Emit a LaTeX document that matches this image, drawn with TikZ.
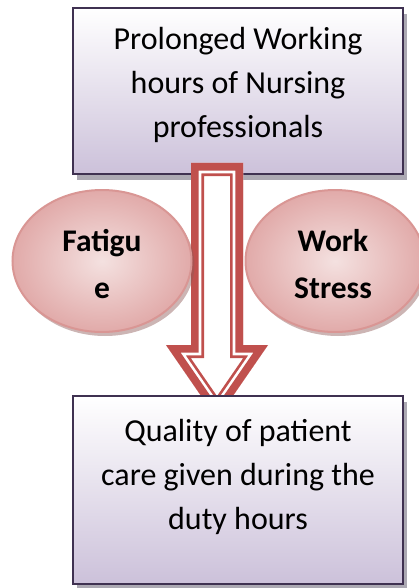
\documentclass[tikz,border=0pt]{standalone}
\usepackage{fontspec}
\setmainfont{Carlito}
\usetikzlibrary{shapes.geometric,shadows}

\definecolor{boxline}{HTML}{3F3151}
\definecolor{boxbottom}{HTML}{CCC1DA}
\definecolor{boxshadow}{HTML}{9E9AA6}
\definecolor{arrowred}{HTML}{C0504D}
\definecolor{ovalline}{HTML}{D99694}
\definecolor{ovaldark}{HTML}{E1AAA9}
\definecolor{ovallight}{HTML}{F4E1E0}
\definecolor{ovalshadow}{HTML}{8F5A58}

\begin{document}
\begin{tikzpicture}[x=1pt,y=-1pt,
  box/.style={draw=boxline, line width=2.4pt, top color=white, bottom color=boxbottom,
    minimum width=330pt, inner sep=0pt,
    drop shadow={shadow xshift=4pt, shadow yshift=-6pt, fill=boxshadow, opacity=.85}},
  boxtext/.style={inner sep=0pt, align=center, font=\fontsize{32pt}{44.3pt}\selectfont},
  oval/.style={ellipse, draw=ovalline, line width=2pt, minimum width=179pt, minimum height=142pt,
    inner sep=0pt, inner color=ovallight, outer color=ovaldark,
    drop shadow={shadow xshift=3pt, shadow yshift=-4pt, fill=ovalshadow, opacity=.45}},
  ovaltext/.style={inner sep=0pt, align=center, font=\fontsize{31.5pt}{47pt}\selectfont\bfseries},
  band/.style={line join=miter, miter limit=20}]
\useasboundingbox (0,0) rectangle (419,588);

% cause box
\node[box, minimum height=166pt] (cause) at (238,91) {};
\node[boxtext] (causeText) at (238,85) {Prolonged Working\\hours of Nursing\\professionals};

% block arrow with a thick-thin red outline
\path[save path=\arrowoutline] (191,163) -- (243,163) -- (243,345) -- (268,345)
  -- (217,419) -- (166,345) -- (191,345) -- cycle;
\begin{scope}
  \clip[use path=\arrowoutline];
  \fill[white, use path=\arrowoutline];
  \draw[band, arrowred, line width=26pt, use path=\arrowoutline];
  \draw[band, white, line width=20.6pt, use path=\arrowoutline];
  \draw[band, arrowred, line width=15.4pt, use path=\arrowoutline];
\end{scope}

% contributing factors
\node[oval] (fatigue) at (102,261) {};
\node[ovaltext] (fatigueText) at (102,264) {Fatigu\\e};
\node[oval] (stress) at (335,261) {};
\node[ovaltext] (stressText) at (333,264) {Work\\Stress};

% effect box
\node[box, minimum height=188pt] (effect) at (238,490) {};
\node[boxtext] (effectText) at (238,477) {Quality of patient\\care given during the\\duty hours};
\end{tikzpicture}
\end{document}
